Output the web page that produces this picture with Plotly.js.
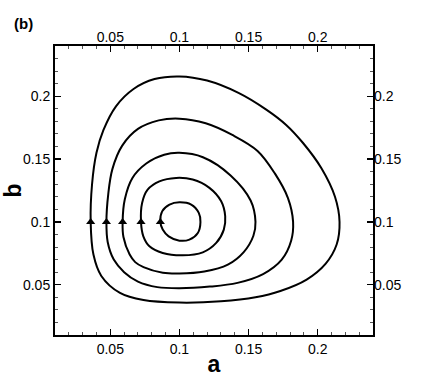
<!DOCTYPE html>
<html>
<head>
<meta charset="utf-8">
<script src="https://cdn.plot.ly/plotly-3.0.1.min.js"></script>
<style>
  html, body { margin: 0; padding: 0; background: #fff; }
  #chart { width: 425px; height: 378px; }
</style>
</head>
<body>
<div id="chart"></div>
<script>
/* ===== Orbit data (a, b), clockwise from the left ===== */
const orbit1A = [0.0358,0.0368,0.0400,0.0450,0.0541,0.0668,0.0820,0.1000,0.1200,0.1427,0.1628,0.1772,0.1894,0.2027,0.2125,0.2158,0.2137,0.2058,0.1920,0.1730,0.1550,0.1300,0.1000,0.0740,0.0570,0.0435,0.0378];
const orbit1B = [0.1000,0.1300,0.1550,0.1730,0.1920,0.2058,0.2137,0.2158,0.2125,0.2027,0.1894,0.1772,0.1628,0.1427,0.1200,0.1000,0.0820,0.0668,0.0541,0.0450,0.0400,0.0368,0.0358,0.0378,0.0435,0.0570,0.0740];

const orbit2A = [0.0472,0.0485,0.0515,0.0585,0.0700,0.0850,0.1000,0.1190,0.1386,0.1565,0.1690,0.1785,0.1822,0.1808,0.1740,0.1605,0.1420,0.1220,0.1000,0.0840,0.0700,0.0600,0.0525,0.0481];
const orbit2B = [0.1000,0.1220,0.1420,0.1605,0.1740,0.1808,0.1822,0.1785,0.1690,0.1565,0.1386,0.1190,0.1000,0.0850,0.0700,0.0585,0.0515,0.0485,0.0472,0.0481,0.0525,0.0600,0.0700,0.0840];

const orbit3A = [0.0589,0.0605,0.0660,0.0760,0.0890,0.1000,0.1170,0.1370,0.1515,0.1550,0.1535,0.1465,0.1350,0.1180,0.1000,0.0880,0.0740,0.0680,0.0640,0.0595];
const orbit3B = [0.1000,0.1180,0.1350,0.1465,0.1535,0.1550,0.1515,0.1370,0.1170,0.1000,0.0890,0.0760,0.0660,0.0605,0.0589,0.0595,0.0640,0.0680,0.0740,0.0880];

const orbit4A = [0.0722,0.0730,0.0770,0.0855,0.0976,0.1096,0.1217,0.1302,0.1331,0.1321,0.1266,0.1169,0.1024,0.0879,0.0783,0.0739];
const orbit4B = [0.1000,0.1151,0.1257,0.1323,0.1350,0.1337,0.1271,0.1164,0.1045,0.0939,0.0833,0.0758,0.0734,0.0753,0.0806,0.0885];

const orbit5A = [0.0862,0.0875,0.0928,0.1000,0.1085,0.1140,0.1152,0.1133,0.1072,0.1000,0.0922,0.0879];
const orbit5B = [0.1000,0.1084,0.1138,0.1156,0.1138,0.1072,0.1000,0.0912,0.0859,0.0851,0.0885,0.0939];

// start points, marked with an up-pointing arrow head
const arrowA = [0.0358,0.0472,0.0589,0.0722,0.0862];
const arrowB = [0.1,0.1,0.1,0.1,0.1];

const tickVals = [0.05,0.1,0.15,0.2];
const tickText = ["0.05","0.1","0.15","0.2"];

/* ===== Traces ===== */
const FONT = "Liberation Sans, Arial, Helvetica, sans-serif";

function closed(arr) { return arr.concat([arr[0]]); }

const orbits = [
  [orbit1A, orbit1B], [orbit2A, orbit2B], [orbit3A, orbit3B],
  [orbit4A, orbit4B], [orbit5A, orbit5B]
];

const traces = orbits.map(o => ({
  type: "scatter",
  mode: "lines",
  x: closed(o[0]),
  y: closed(o[1]),
  line: { color: "#000", width: 2, shape: "spline", smoothing: 1 },
  hoverinfo: "skip",
  showlegend: false
}));

traces.push({
  type: "scatter",
  mode: "markers",
  x: arrowA,
  y: arrowB,
  marker: { symbol: "triangle-up", size: 8, color: "#000" },
  showlegend: false
});

// empty trace so the top / right label axes get drawn
traces.push({
  type: "scatter", mode: "markers", x: [], y: [],
  xaxis: "x2", yaxis: "y2", showlegend: false
});

/* ===== Layout ===== */
const common = {
  range: [0.01, 0.24],
  tickmode: "array",
  tickvals: tickVals,
  ticktext: tickText,
  ticks: "inside",
  ticklen: 6,
  tickwidth: 1.3,
  tickcolor: "#000",
  minor: { ticks: "inside", dtick: 0.01, tick0: 0, ticklen: 3, tickwidth: 1, tickcolor: "#555" },
  showgrid: false,
  zeroline: false,
  tickfont: { family: FONT, size: 14, color: "#000" }
};

const layout = {
  width: 425,
  height: 378,
  margin: { l: 55, r: 52, t: 46, b: 43 },
  paper_bgcolor: "#fff",
  plot_bgcolor: "#fff",
  font: { family: FONT, color: "#000" },
  xaxis: Object.assign({}, common, {
    showline: true, linecolor: "#000", linewidth: 2, mirror: true,
    title: { text: "<b>a</b>", font: { family: FONT, size: 23 }, standoff: 0 }
  }),
  yaxis: Object.assign({}, common, {
    showline: true, linecolor: "#000", linewidth: 2, mirror: true,
    title: { text: "<b>b</b>", font: { family: FONT, size: 23 }, standoff: 0 }
  }),
  xaxis2: Object.assign({}, common, {
    overlaying: "x", side: "top", anchor: "y", matches: "x", showline: false
  }),
  yaxis2: Object.assign({}, common, {
    overlaying: "y", side: "right", anchor: "x", matches: "y", showline: false
  }),
  annotations: [{
    text: "<b>(b)</b>",
    xref: "paper", yref: "paper",
    x: -0.135, y: 1.04,
    xanchor: "left", yanchor: "bottom",
    showarrow: false,
    font: { family: FONT, size: 15, color: "#000" }
  }]
};

Plotly.newPlot("chart", traces, layout, { displayModeBar: false, staticPlot: true });
</script>
</body>
</html>
